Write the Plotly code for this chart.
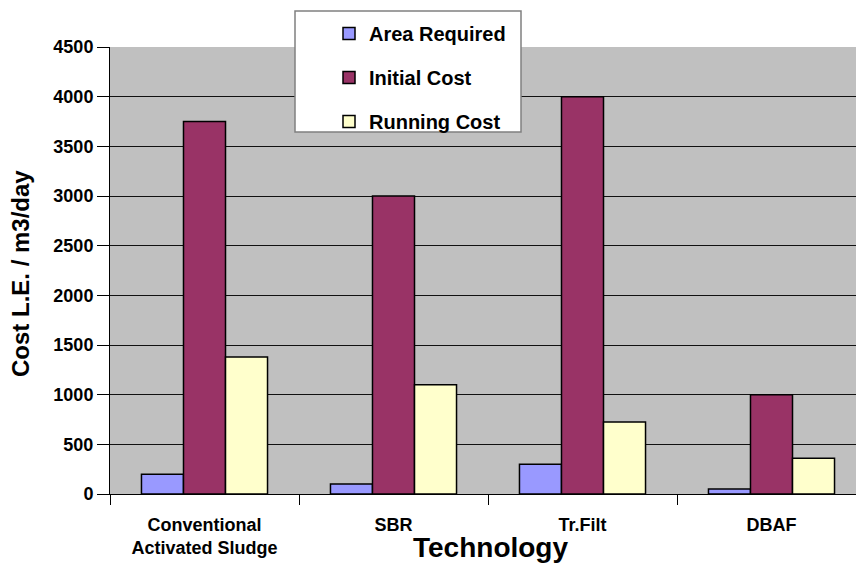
import plotly.graph_objects as go

categories = ["Conventional<br>Activated Sludge", "SBR", "Tr.Filt", "DBAF"]
area_required = [200, 100, 300, 50]
initial_cost = [3750, 3000, 4000, 1000]
running_cost = [1380, 1100, 725, 360]

series_names = ["Area Required", "Initial Cost", "Running Cost"]
series_colors = ["#9999FF", "#993366", "#FFFFCC"]
y_ticks = list(range(0, 4501, 500))

FONT = "Liberation Sans, Arial, sans-serif"

fig = go.Figure()
for i, (name, vals, col) in enumerate(zip(series_names,
                                          [area_required, initial_cost, running_cost],
                                          series_colors)):
    fig.add_trace(go.Bar(
        x=categories, y=vals, name=name, legendgroup=f"g{i}",
        marker=dict(color=col, line=dict(color="#000000", width=1.5)),
    ))

# plot area: x 110..856 (px), y 47..494
L, R, T, B = 110, 856, 47, 494
W, H = R - L, B - T
CAT_W = 189.0

def px_x(px):
    return (px - L) / W

def px_y(py):
    return (B - py) / H

fig.update_layout(
    width=856, height=563,
    margin=dict(l=L, r=0, t=T, b=563 - B, pad=0),
    paper_bgcolor="white",
    plot_bgcolor="#C0C0C0",
    barmode="group", bargap=0.333, bargroupgap=0,
    font=dict(family=FONT, color="black"),
    showlegend=True,
    legend=dict(
        x=px_x(329), y=px_y(14), xanchor="left", yanchor="top",
        bgcolor="rgba(0,0,0,0)", borderwidth=0,
        font=dict(family=FONT, size=20, color="black", weight="bold"),
        traceorder="grouped", tracegroupgap=15,
    ),
    xaxis=dict(
        range=[-0.5, -0.5 + W / CAT_W],
        showgrid=False, showline=True, linecolor="black", linewidth=1,
        ticks="outside", tickson="boundaries", ticklen=10, tickcolor="black",
        tickfont=dict(family=FONT, size=18, color="black", weight="bold"),
        ticklabelstandoff=14,
        fixedrange=True,
    ),
    yaxis=dict(
        range=[0, 4500], tickvals=y_ticks,
        showgrid=True, gridcolor="#111111", gridwidth=1,
        showline=True, linecolor="black", linewidth=1,
        ticks="outside", ticklen=12, tickcolor="black",
        tickfont=dict(family=FONT, size=18, color="black", weight="bold"),
        zeroline=False,
    ),
    shapes=[dict(
        type="rect", xref="paper", yref="paper",
        x0=px_x(295), x1=px_x(521), y0=px_y(132), y1=px_y(11),
        fillcolor="white", line=dict(color="#808080", width=1.5), layer="above",
    )],
    annotations=[
        dict(text="<b>Technology</b>", xref="paper", yref="paper",
             x=px_x(490), y=px_y(547), xanchor="center", yanchor="middle",
             showarrow=False, font=dict(family=FONT, size=28, color="black")),
        dict(text="<b>Cost L.E. / m3/day</b>", xref="paper", yref="paper",
             x=px_x(20), y=px_y(274), xanchor="center", yanchor="middle",
             textangle=-90, showarrow=False,
             font=dict(family=FONT, size=24, color="black")),
    ],
)

fig.write_html("out.html")
